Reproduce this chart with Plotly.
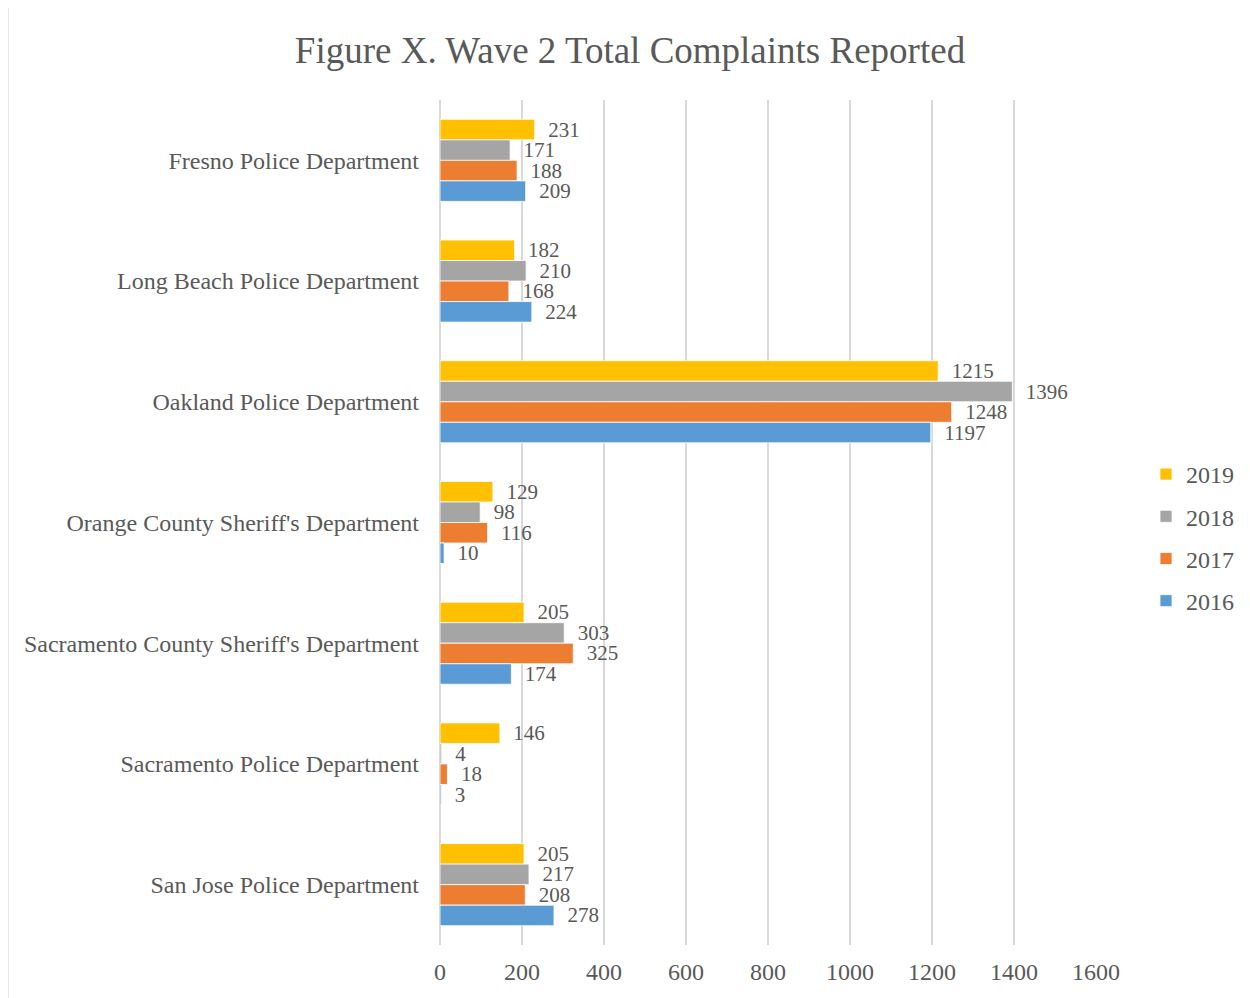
import plotly.graph_objects as go

departments = [
    "Fresno Police Department",
    "Long Beach Police Department",
    "Oakland Police Department",
    "Orange County Sheriff's Department",
    "Sacramento County Sheriff's Department",
    "Sacramento Police Department",
    "San Jose Police Department",
]
v2019 = [231, 182, 1215, 129, 205, 146, 205]
v2018 = [171, 210, 1396, 98, 303, 4, 217]
v2017 = [188, 168, 1248, 116, 325, 18, 208]
v2016 = [209, 224, 1197, 10, 174, 3, 278]
years = ["2019", "2018", "2017", "2016"]
series = [v2019, v2018, v2017, v2016]
colors = ["#FFC000", "#A5A5A5", "#ED7D31", "#5B9BD5"]
ticks = [0, 200, 400, 600, 800, 1000, 1200, 1400, 1600]

FONT = "Liberation Serif, Times New Roman, serif"
GREY = "#595959"

fig = go.Figure()
for name, vals, col in zip(years, series, colors):
    fig.add_trace(go.Bar(
        y=departments, x=vals, name=name, orientation="h", legendgroup=name,
        marker=dict(color=col, line=dict(color="white", width=0.8)),
        text=vals, texttemplate="  %{x}", textposition="outside",
        constraintext="none",
        textfont=dict(family=FONT, size=21, color=GREY),
        cliponaxis=False,
    ))

OFF = 8  # page body margin
W, H = 1250 - OFF, 998 - OFF
L = 440 - OFF
R = W - (1097 - OFF)
T = 100 - OFF
B = H - (945 - OFF)
pw, ph = W - L - R, H - T - B


def px_x(p):  # reference pixel x -> paper x
    return (p - OFF - L) / pw


def px_y(p):  # reference pixel y -> paper y
    return (H - B - (p - OFF)) / ph


fig.update_layout(
    width=W, height=H,
    margin=dict(l=L, r=R, t=T, b=B),
    paper_bgcolor="white", plot_bgcolor="white",
    barmode="group", bargap=0.32, bargroupgap=0,
    font=dict(family=FONT, color=GREY),
    title=dict(text="Figure X. Wave 2 Total Complaints Reported",
               x=(630 - OFF) / W, xanchor="center", y=1 - (50 - OFF) / H, yanchor="middle",
               font=dict(family=FONT, size=37, color=GREY)),
    xaxis=dict(range=[0, 1600], tickvals=ticks, showgrid=True, gridcolor="#D9D9D9",
               gridwidth=2, zeroline=True, zerolinecolor="#D9D9D9", zerolinewidth=2,
               showline=False, ticks="", ticklabelstandoff=10,
               tickfont=dict(family=FONT, size=24, color=GREY)),
    yaxis=dict(autorange="reversed", showgrid=False, showline=False, ticks="",
               ticklabelstandoff=20,
               tickfont=dict(family=FONT, size=24, color=GREY)),
    legend=dict(x=px_x(1146), xanchor="left", y=px_y(452), yanchor="top",
                font=dict(family=FONT, size=24, color=GREY), tracegroupgap=8,
                itemwidth=30, traceorder="grouped"),
    showlegend=True,
)
fig.add_shape(type="rect", xref="paper", yref="paper",
              x0=px_x(7), x1=px_x(1260),
              y0=px_y(1010), y1=px_y(7),
              line=dict(color="#D9D9D9", width=2), layer="below")
fig.write_html("out.html")
